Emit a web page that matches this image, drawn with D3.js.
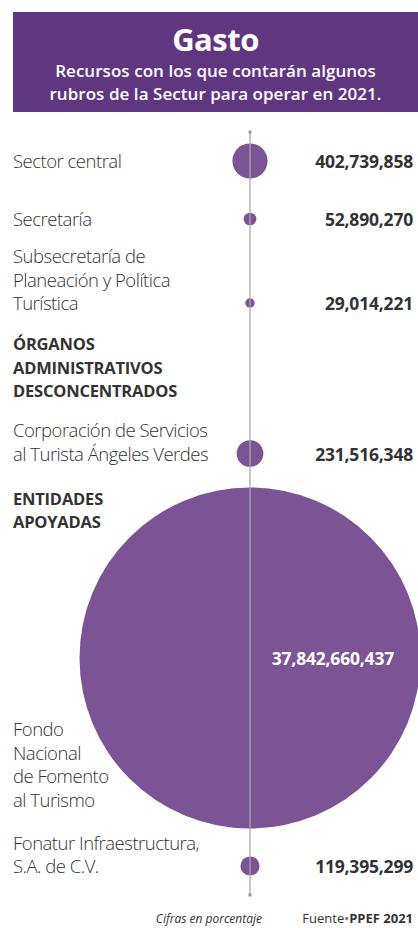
<!DOCTYPE html>
<html>
<head>
<meta charset="utf-8">
<script src="https://cdn.jsdelivr.net/npm/d3@7"></script>
<style>
  body { margin: 0; background: #fff; }
  svg { display: block; }
</style>
</head>
<body>
<svg id="chart" width="418" height="928"></svg>
<script>
// rubros (heading rows have no value)
const labels = [
  ["Sector central"],
  ["Secretaría"],
  ["Subsecretaría de", "Planeación y Política", "Turística"],
  ["ÓRGANOS", "ADMINISTRATIVOS", "DESCONCENTRADOS"],
  ["Corporación de Servicios", "al Turista Ángeles Verdes"],
  ["ENTIDADES", "APOYADAS"],
  ["Fondo", "Nacional", "de Fomento", "al Turismo"],
  ["Fonatur Infraestructura,", "S.A. de C.V."]
];
const values = [402739858, 52890270, 29014221, null, 231516348, null, 37842660437, 119395299];

const title = "Gasto";
const subtitle = ["Recursos con los que contarán algunos", "rubros de la Sectur para operar en 2021."];
const note = "Cifras en porcentaje";
const source = ["Fuente", "PPEF 2021"];

const W = 418, H = 928;
const purple = "#5f3680", dot = "#7a5494", ink = "#333";
const font = "'Open Sans', sans-serif";
const cx = 250, lineH = 23.5;
// space before each block (after the previous block's last line)
const gapBefore = [0, 58, 37, 40, 40, 44, 208, 43];

const svg = d3.select("#chart");

// header
svg.append("rect").attr("x", 13).attr("y", 12).attr("width", W - 13).attr("height", 100).attr("fill", purple);
svg.append("text").attr("x", 215.5).attr("y", 51).attr("text-anchor", "middle")
  .style("font-family", font).style("font-weight", 700).style("font-size", "31px")
  .style("letter-spacing", "-0.5px")
  .attr("fill", "#fff").text(title);
svg.append("g").selectAll("text").data(subtitle).join("text")
  .attr("x", 215.5).attr("y", (d, i) => 77 + i * 23.4).attr("text-anchor", "middle")
  .style("font-family", font).style("font-weight", 600).style("font-size", "17px")
  .style("letter-spacing", "0.05px")
  .attr("fill", "#fff").text(d => d);

// layout of the rows
let cursor = 168;
const rows = labels.map((lines, i) => {
  const first = i === 0 ? cursor : cursor + gapBefore[i];
  const baselines = lines.map((l, j) => first + j * lineH);
  cursor = baselines[baselines.length - 1];
  return { lines, value: values[i], baselines, last: cursor };
});

const r = d3.scaleSqrt().domain([0, d3.max(values)]).range([0, 170.5]);
const fmt = d3.format(",");

rows.forEach(d => {
  if (d.value == null) return;
  d.r = r(d.value);
  d.big = d.r > 60;
  d.cy = d.big ? d.last + 22 - d.r : d.last - 7;
});

const valued = rows.filter(d => d.value != null);

// circles
svg.append("g").selectAll("circle").data(valued).join("circle")
  .attr("cx", cx).attr("cy", d => d.cy).attr("r", d => d.r).attr("fill", dot);

// vertical guide line over circles
svg.append("line").attr("x1", cx).attr("x2", cx).attr("y1", 132).attr("y2", 895)
  .attr("stroke", "#a9a9a9").attr("stroke-width", 1.3);
svg.append("g").selectAll("rect").data([132, 895]).join("rect")
  .attr("x", cx - 1.5).attr("y", d => d - 1.5).attr("width", 3).attr("height", 3).attr("fill", "#999");

// labels
const lbl = svg.append("g").selectAll("g").data(rows).join("g");
lbl.selectAll("text").data(d => d.lines.map((t, j) => ({ t, y: d.baselines[j], head: d.value == null })))
  .join("text")
  .attr("x", 13).attr("y", d => d.y)
  .style("font-family", font)
  .style("font-weight", d => d.head ? 700 : 300)
  .style("font-size", d => d.head ? "16.5px" : "18.5px")
  .style("letter-spacing", d => d.head ? "-0.2px" : "-0.5px")
  .attr("fill", ink)
  .text(d => d.t);

// values
svg.append("g").selectAll("text").data(valued).join("text")
  .attr("x", d => d.big ? 394 : 413)
  .attr("y", d => d.big ? d.cy + 7 : d.last)
  .attr("text-anchor", "end")
  .style("font-family", font).style("font-weight", 700).style("font-size", "17.5px")
  .style("letter-spacing", "-0.2px")
  .attr("fill", d => d.big ? "#fff" : ink)
  .text(d => fmt(d.value));

// footer
svg.append("text").attr("x", 262).attr("y", 923).attr("text-anchor", "end")
  .style("font-family", font).style("font-style", "italic").style("font-size", "12px")
  .attr("fill", ink).text(note);
const src = svg.append("text").attr("x", 413).attr("y", 923).attr("text-anchor", "end")
  .style("font-family", font).style("font-size", "13px").attr("fill", ink);
src.append("tspan").text(source[0]);
src.append("tspan").attr("fill", dot).text("•");
src.append("tspan").style("font-weight", 700).text(source[1]);
</script>
</body>
</html>
